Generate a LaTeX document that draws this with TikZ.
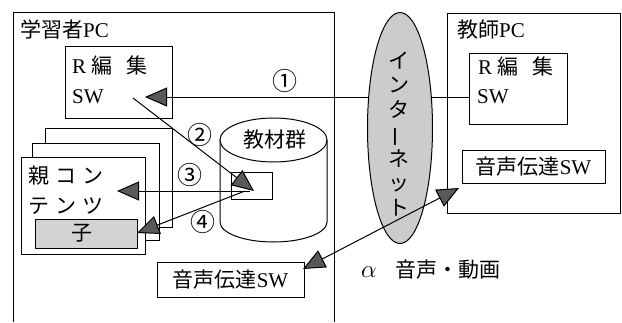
\documentclass[tikz,border=0pt]{standalone}
\usepackage{fontspec}
\setmainfont{Liberation Serif}
\newfontfamily\jp{Noto Sans CJK JP}
\usetikzlibrary{arrows.meta,shapes.geometric}
\begin{document}
\begin{tikzpicture}[x=1pt,y=-1pt,
  every node/.style={font=\fontsize{21}{25}\selectfont, inner sep=0pt},
  box/.style={draw, line width=1pt, fill=white},
  tip/.tip={Triangle[length=22pt,width=19pt,fill=black!65]},
  arr/.style={line width=1pt, -tip},
  num/.style={font=\fontsize{25}{25}\selectfont\jp},
  lbl/.style={anchor=west}]
\useasboundingbox (0,0) rectangle (622,322);
% learner PC frame (open at bottom)
\draw[line width=1pt] (13,322) -- (13,12) -- (334,12) -- (334,322);
\node[lbl] (lpc) at (20,29) {{\jp 学習者}PC};
% teacher PC
\node[box, minimum width=173pt, minimum height=200pt] (tpc) at (533.5,113) {};
\node[lbl] (tpcl) at (457,30) {{\jp 教師}PC};
% learner R edit SW
\node[box, minimum width=107pt, minimum height=72pt] (lR) at (118.5,82) {};
\node[lbl] (lR1) at (72,65) {R\hspace{5pt}{\jp 編}\hspace{14pt}{\jp 集}};
\node[lbl] (lR2) at (72,97) {SW};
% teacher R edit SW
\node[box, minimum width=98pt, minimum height=71pt] (tR) at (518,88.5) {};
\node[lbl] (tR1) at (478,66) {R\hspace{5pt}{\jp 編}\hspace{14pt}{\jp 集}};
\node[lbl] (tR2) at (477,97) {SW};
% voice SW boxes
\node[box, minimum width=143pt, minimum height=33pt] (tV) at (533.5,166.5) {{\jp 音声伝達}SW};
\node[box, minimum width=147pt, minimum height=35pt] (lV) at (230.5,279.5) {{\jp 音声伝達}SW};
% stacked content pages
\node[box, minimum width=127pt, minimum height=99pt] (pg3) at (108.5,177.5) {};
\node[box, minimum width=127pt, minimum height=97pt] (pg2) at (95.5,191.5) {};
\node[box, minimum width=124pt, minimum height=97pt] (pg1) at (83,205.5) {};
\node[lbl] (oya1) at (28,176) {\jp 親\hspace{6pt}コ\hspace{6pt}ン};
\node[lbl] (oya2) at (28,206) {\jp テ\hspace{6pt}ン\hspace{6pt}ツ};
\node[draw, line width=1pt, fill=gray!35, minimum width=102pt, minimum height=29pt] (ko) at (86,233.5) {};
\node (kol) at (82,233.5) {\jp 子};
% cylinder
\draw[line width=1pt, fill=white] (220,140) -- (220,222) arc (180:360:53.5pt and 20pt) -- (327,140);
\draw[line width=1pt, fill=white] (273.5,140) ellipse (53.5pt and 22pt);
\node (kyo) at (275,140) {\jp 教材群};
\node[box, minimum width=41pt, minimum height=27pt] (slot) at (251.5,185.5) {};
% arrow 1 (behind internet)
\coordinate (a1s) at (469,97);
\coordinate (a1e) at (145,97);
\draw[arr] (a1s) -- (a1e);
\node[num] (n1) at (285,81) {①};
% internet
\node[ellipse, draw, line width=1pt, fill=gray!40, minimum width=65pt, minimum height=231pt] (net) at (400,128) {};
\node[align=center, font=\fontsize{21}{24.5}\selectfont\jp] (netl) at (399,134) {イ\\ ン\\ タ\\ \rotatebox[origin=c]{90}{ー}\\ ネ\\ ッ\\ ト};
% arrows 2,3,4
\coordinate (a2s) at (133,98);
\coordinate (a2e) at (254,191);
\draw[arr] (a2s) -- (a2e);
\node[num] (n2) at (200,135) {②};
\coordinate (a3s) at (250,191);
\coordinate (a3e) at (117,191);
\draw[arr] (a3s) -- (a3e);
\node[num] (n3) at (190,175) {③};
\coordinate (a4s) at (245,191);
\coordinate (a4e) at (137,233);
\draw[arr] (a4s) -- (a4e);
\node[num] (n4) at (203,222) {④};
% alpha arrow
\coordinate (ae1) at (303,269);
\coordinate (ae2) at (459,188);
\draw[line width=1pt, tip-tip] (ae1) -- (ae2);
\node[lbl] (al) at (361,270) {\fontsize{26}{26}\selectfont$\alpha$\hspace{19pt}{\fontsize{21}{25}\selectfont\jp 音声・動画}};
\end{tikzpicture}
\end{document}
